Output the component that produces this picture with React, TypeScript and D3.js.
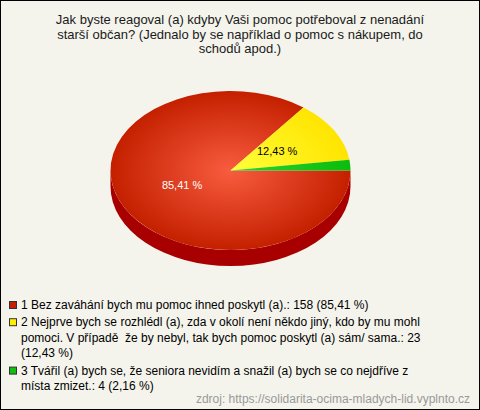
import React, { useEffect } from "react";
import * as d3 from "d3";

const titleLines = [
  "Jak byste reagoval (a) kdyby Vaši pomoc potřeboval z nenadání",
  "starší občan? (Jednalo by se například o pomoc s nákupem, do",
  "schodů apod.)",
];
const categories = ["1", "2", "3"];
const values = [158, 23, 4];
const percentLabels = ["85,41 %", "12,43 %", "2,16 %"];
const showLabel = [true, true, false];
const legendLines = [
  ["1 Bez zaváhání bych mu pomoc ihned poskytl (a).: 158 (85,41 %)"],
  [
    "2 Nejprve bych se rozhlédl (a), zda v okolí není někdo jiný, kdo by mu mohl",
    "pomoci. V případě  že by nebyl, tak bych pomoc poskytl (a) sám/ sama.: 23",
    "(12,43 %)",
  ],
  [
    "3 Tvářil (a) bych se, že seniora nevidím a snažil (a) bych se co nejdříve z",
    "místa zmizet.: 4 (2,16 %)",
  ],
];
const sourceText = "zdroj: https://solidarita-ocima-mladych-lid.vyplnto.cz";

const W = 480;
const H = 410;
const cx = 230.5;
const cy = 170.5;
const rx = 120;
const ry = 79.5;
const depth = 16;

const gradStops = [
  ["#f85c3e", "#c42000"],
  ["#ffff3a", "#ffe400"],
  ["#2ad42a", "#0cbc0c"],
];
const legendColors = ["#c42000", "#ffee00", "#10c010"];
const sideColor = "#a80000";
const labelColors = ["#ffffff", "#000000", "#000000"];

export default function App() {
  useEffect(() => {
    document.body.style.margin = "0";
  }, []);

  const pie = d3
    .pie<number>()
    .sort(null)
    .startAngle(Math.PI / 2)
    .endAngle(Math.PI / 2 + 2 * Math.PI)
    .value((d) => d);
  const arcs = pie(values);
  const arc = d3.arc<d3.PieArcDatum<number>>().innerRadius(0).outerRadius(rx);
  const labelArc = d3
    .arc<d3.PieArcDatum<number>>()
    .innerRadius(rx * 0.45)
    .outerRadius(rx * 0.45);
  const k = ry / rx;

  const sidePath = `M${cx - rx},${cy} A${rx},${ry} 0 0 0 ${cx + rx},${cy} L${cx + rx},${cy + depth} A${rx},${ry} 0 0 1 ${cx - rx},${cy + depth} Z`;

  const font = "'Liberation Sans', Arial, sans-serif";
  const lh = 15.6;
  let y = 309;
  const legendRows: { text: string; y: number; first: boolean; idx: number }[] = [];
  legendLines.forEach((lines, i) => {
    lines.forEach((t, j) => {
      legendRows.push({ text: t, y, first: j === 0, idx: i });
      y += lh;
    });
    y += 1.6;
  });

  return (
    <svg width={W} height={H} style={{ display: "block" }} fontFamily={font}>
      <defs>
        {gradStops.map((s, i) => (
          <radialGradient
            key={i}
            id={`g${i}`}
            gradientUnits="userSpaceOnUse"
            cx={0}
            cy={0}
            r={rx}
          >
            <stop offset="0" stopColor={s[0]} />
            <stop offset="1" stopColor={s[1]} />
          </radialGradient>
        ))}
      </defs>
      <rect x={0.5} y={0.5} width={W - 1} height={H - 1} fill="#f4f4ec" stroke="#000" />
      {titleLines.map((t, i) => (
        <text
          key={i}
          x={240}
          y={24 + i * 14.6}
          textAnchor="middle"
          fontSize={13}
          fill="#1a1a1a"
        >
          {t}
        </text>
      ))}
      <path d={sidePath} fill={sideColor} />
      <g transform={`translate(${cx},${cy}) scale(1,${k})`}>
        {arcs.map((a, i) => (
          <path key={categories[i]} d={arc(a) || ""} fill={`url(#g${i})`} />
        ))}
      </g>
      {arcs.map((a, i) => {
        if (!showLabel[i]) return null;
        const [lx, ly] = labelArc.centroid(a);
        return (
          <text
            key={i}
            x={cx + lx}
            y={cy + ly * k}
            textAnchor="middle"
            dominantBaseline="middle"
            fontSize={11}
            fill={labelColors[i]}
          >
            {percentLabels[i]}
          </text>
        );
      })}
      {legendRows.map((r, i) => (
        <g key={i}>
          {r.first && (
            <rect
              x={9.5}
              y={r.y - 7.5}
              width={7}
              height={7}
              fill={legendColors[r.idx]}
              stroke="#333"
            />
          )}
          <text x={21} y={r.y} fontSize={12} fill="#000" style={{ whiteSpace: "pre" }}>
            {r.text}
          </text>
        </g>
      ))}
      <text x={470} y={403} textAnchor="end" fontSize={12} fill="#999">
        {sourceText}
      </text>
    </svg>
  );
}
